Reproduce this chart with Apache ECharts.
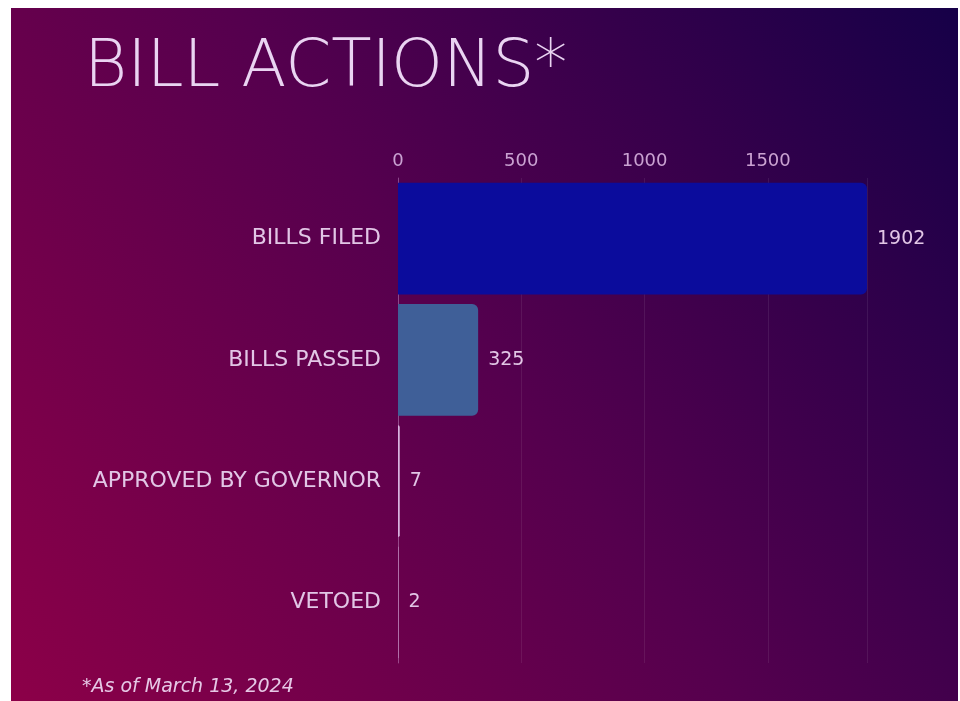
<!DOCTYPE html>
<html>
<head>
<meta charset="utf-8">
<script src="https://cdn.jsdelivr.net/npm/echarts@6/dist/echarts.min.js"></script>
<style>
html,body{margin:0;padding:0;background:#fff;width:960px;height:701px;overflow:hidden;}
#chart{position:absolute;left:11px;top:8px;width:947px;height:693px;}
</style>
</head>
<body>
<div id="chart"></div>
<script>
const categories = ['BILLS FILED', 'BILLS PASSED', 'APPROVED BY GOVERNOR', 'VETOED'];
const values = [1902, 325, 7, 2];
const barColors = ['#0b0c9c', '#3f5f98', '#d8b4e0', '#c898c8'];

const chart = echarts.init(document.getElementById('chart'));
const txt = '#e2c6e6';
const FF = 'DejaVu Sans';
chart.setOption({
  backgroundColor: {
    type: 'linear', x: 0, y: 1, x2: 1, y2: 0,
    colorStops: [
      {offset: 0, color: '#8c0048'},
      {offset: 0.5, color: '#55004e'},
      {offset: 1, color: '#160048'}
    ]
  },
  title: [{
    text: 'BILL ACTIONS*',
    left: 68, top: 23,
    textStyle: {color: '#ead4f2', fontSize: 66, fontWeight: 200, fontFamily: FF}
  }, {
    text: '*As of March 13, 2024',
    left: 66, top: 665,
    textStyle: {color: '#e6c8e6', fontSize: 19, fontWeight: 'normal', fontStyle: 'italic', fontFamily: FF}
  }],
  grid: {left: 387, right: 91, top: 170, bottom: 38, containLabel: false},
  xAxis: {
    type: 'value', position: 'top', min: 0, max: 1902, interval: 500,
    axisLine: {show: false}, axisTick: {show: false},
    axisLabel: {color: '#caa2d2', fontSize: 18, fontFamily: FF, margin: 8, showMaxLabel: false,
      formatter: v => String(v)},
    splitLine: {lineStyle: {color: 'rgba(255,255,255,0.08)', width: 1}}
  },
  yAxis: {
    type: 'category', data: categories, inverse: true,
    axisLine: {show: true, lineStyle: {color: 'rgba(220,170,230,0.35)', width: 1}},
    axisTick: {show: false},
    axisLabel: {color: txt, fontSize: 22, fontFamily: FF, margin: 17}
  },
  series: [{
    type: 'bar',
    data: values.map((v, i) => ({value: v, itemStyle: {color: barColors[i]}})),
    barCategoryGap: '8%',
    itemStyle: {borderRadius: [0, 6, 6, 0]},
    label: {show: true, position: 'right', distance: 10, color: txt, fontSize: 19, fontFamily: FF},
    animation: false
  }],
  animation: false
});
</script>
</body>
</html>
